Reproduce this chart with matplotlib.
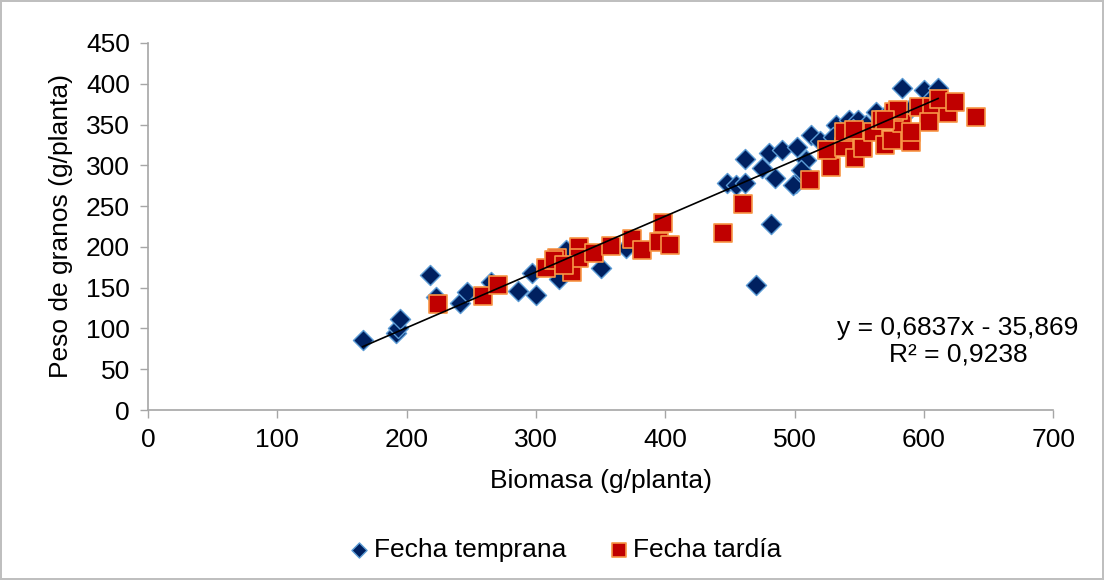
import numpy as np
import matplotlib.pyplot as plt

plt.rcParams['font.family'] = ['Liberation Sans', 'DejaVu Sans']

# Fecha temprana (biomasa, peso de granos)
temprana_x = [166, 192, 193, 195, 218, 223, 241, 247, 265, 286, 300, 297, 318, 322,
              323, 350, 370, 448, 455, 462, 462, 475, 480, 490, 502, 485, 501, 482,
              470, 509, 513, 505, 499, 532, 542, 549, 563, 583, 600, 611, 520, 530,
              545, 555, 570, 590, 605]
temprana_y = [86, 95, 100, 112, 165, 139, 131, 145, 157, 146, 141, 168, 161, 183,
              196, 174, 199, 278, 276, 278, 308, 297, 315, 319, 322, 284, 278, 228,
              153, 307, 337, 294, 276, 349, 356, 356, 365, 395, 392, 395, 330, 335,
              345, 350, 360, 370, 380]

# Fecha tardía
tardia_x = [224, 259, 271, 308, 316, 328, 333, 333, 345, 358, 374, 382, 395, 398,
            404, 314, 322, 445, 460, 512, 528, 525, 538, 538, 546, 547, 553, 561,
            570, 575, 590, 583, 567, 577, 580, 596, 606, 604, 619, 612, 624, 640,
            590, 570]
tardia_y = [130, 140, 153, 174, 186, 169, 200, 186, 192, 201, 210, 196, 206, 229,
            202, 184, 178, 217, 253, 282, 298, 319, 322, 341, 343, 309, 321, 341,
            325, 331, 329, 352, 356, 365, 368, 371, 371, 353, 364, 381, 378, 359,
            341, 356]

# Línea de tendencia (Excel)
pendiente = 0.6837
intercepto = -35.869
r2 = 0.9238

fs = 19

fig = plt.figure(figsize=(11.04, 5.8), dpi=100)
fig.patch.set_edgecolor('#BFBFBF')
fig.patch.set_linewidth(1.5)
ax = fig.add_axes([0.134, 0.293, 0.820, 0.633])

ax.scatter(temprana_x, temprana_y, marker='D', s=105, c='#002060',
           edgecolors='#5B9BD5', linewidths=1.0, zorder=3, label='Fecha temprana')
ax.scatter(tardia_x, tardia_y, marker='s', s=180, c='#C00000',
           edgecolors='#F79646', linewidths=1.2, zorder=4, label='Fecha tardía')

xt = np.array([min(temprana_x), max(temprana_x)])
ax.plot(xt, pendiente * xt + intercepto, color='black', lw=1.2, zorder=5)

ax.text(0.895, 0.188, 'y = 0,6837x - 35,869\nR² = 0,9238', transform=ax.transAxes,
        ha='center', va='center', fontsize=fs, multialignment='center',
        linespacing=1.15)

ax.set_xlim(0, 700)
ax.set_ylim(0, 450)
ax.set_xticks(np.arange(0, 701, 100))
ax.set_yticks(np.arange(0, 451, 50))
ax.tick_params(labelsize=fs, color='#A6A6A6', length=6, width=1, pad=7)
for s in ['top', 'right']:
    ax.spines[s].set_visible(False)
for s in ['left', 'bottom']:
    ax.spines[s].set_color('#A6A6A6')
    ax.spines[s].set_linewidth(1.2)

ax.set_xlabel('Biomasa (g/planta)', fontsize=fs, labelpad=12)
ax.set_ylabel('Peso de granos (g/planta)', fontsize=fs, labelpad=9)

fig.legend(loc='center', bbox_to_anchor=(0.512, 0.052), ncol=2, frameon=False,
           fontsize=fs, handlelength=0.8, handletextpad=0.15, columnspacing=1.6,
           markerscale=0.75)

fig.savefig('out.png', dpi=100)
